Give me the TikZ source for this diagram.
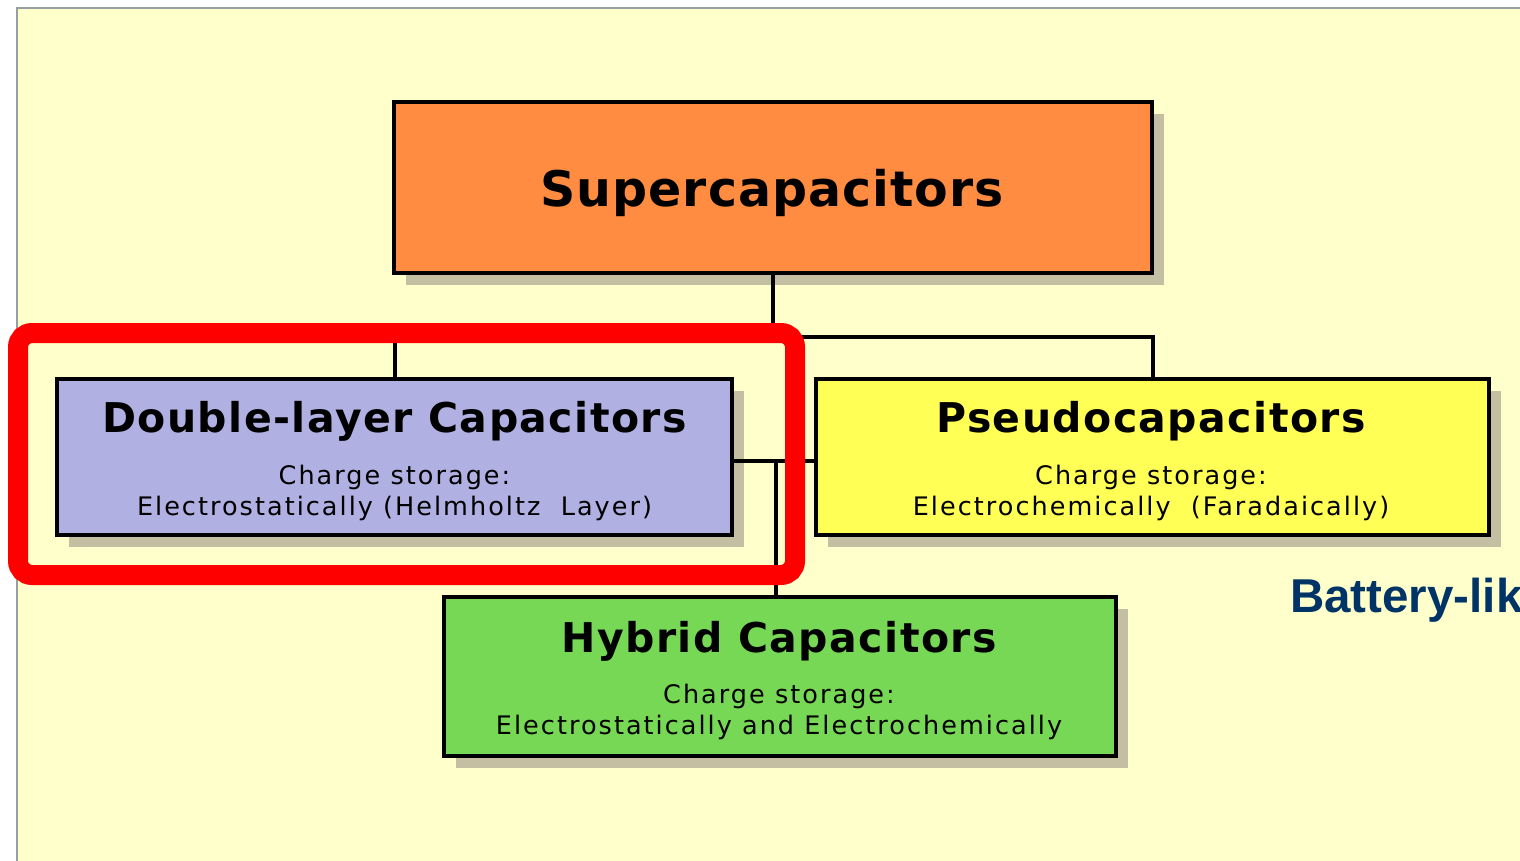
\documentclass[tikz,border=0pt]{standalone}
\usepackage{fontspec}
\setmainfont{DejaVu Sans}
\newfontfamily\libsans{Liberation Sans}
\newfontfamily\subfont[LetterSpace=8]{DejaVu Sans}
\newfontfamily\ttlfont[LetterSpace=3.5]{DejaVu Sans}
\newfontfamily\supfont[LetterSpace=2]{DejaVu Sans}
\usetikzlibrary{shadows}
\definecolor{bgyellow}{RGB}{255,255,204}
\definecolor{framegray}{RGB}{150,160,160}
\definecolor{shadowc}{RGB}{196,190,162}
\definecolor{orangebox}{RGB}{255,140,64}
\definecolor{purplebox}{RGB}{176,176,226}
\definecolor{yellowbox}{RGB}{255,255,85}
\definecolor{greenbox}{RGB}{119,216,85}
\definecolor{navytext}{RGB}{0,51,102}
\definecolor{hired}{RGB}{255,0,0}
\tikzset{
  box/.style={draw=black, line width=4.5pt, inner sep=0pt,
    drop shadow={shadow xshift=12pt, shadow yshift=-12pt, fill=shadowc, opacity=1}},
  conn/.style={draw=black, line width=4pt},
  ttl/.style={anchor=base, inner sep=0pt, font=\ttlfont\bfseries\fontsize{41}{41}\selectfont},
  sub/.style={anchor=base, inner sep=0pt, font=\subfont\fontsize{25.5}{30}\selectfont},
}
\begin{document}
\begin{tikzpicture}[x=1pt,y=1pt]
\useasboundingbox (0,0) rectangle (1520,-861);
\clip (0,0) rectangle (1520,-861);
\fill[white] (0,0) rectangle (1520,-861);
\draw[fill=bgyellow, draw=framegray, line width=2pt] (17,-8) rectangle (1560,-900);

% connectors
\coordinate (j) at (773,-337);
\coordinate (k) at (776,-461);

% boxes
\node[box, fill=orangebox, minimum width=758, minimum height=171] (sup) at (773,-187.5) {};
\node[box, fill=purplebox, minimum width=675, minimum height=156] (dl) at (394.5,-457) {};
\node[box, fill=yellowbox, minimum width=673, minimum height=156] (ps) at (1152.5,-457) {};
\node[box, fill=greenbox, minimum width=672, minimum height=159] (hy) at (780,-676.5) {};

\draw[conn] (sup.south) -- (j);
\draw[conn] (dl.north) |- (j) -| (ps.north);
\draw[conn] (dl.east |- k) -- (ps.west |- k);
\draw[conn] (k) -- (k |- hy.north);

% texts
\node[anchor=base, inner sep=0pt, font=\supfont\bfseries\fontsize{49}{49}\selectfont] (supt) at (772,-207) {Supercapacitors};

\node[ttl] (dlt) at (394.5,-432) {Double-layer Capacitors};
\node[sub] (dls1) at (394.5,-484) {Charge storage:};
\node[sub] (dls2) at (394.5,-515) {Electrostatically (Helmholtz\ \ Layer)};

\node[ttl] (pst) at (1151,-432) {Pseudocapacitors};
\node[sub] (pss1) at (1151,-484) {Charge storage:};
\node[sub] (pss2) at (1151,-515) {Electrochemically\ \ (Faradaically)};

\node[ttl] (hyt) at (779,-652) {Hybrid Capacitors};
\node[sub] (hys1) at (779,-703) {Charge storage:};
\node[sub] (hys2) at (779,-734) {Electrostatically and Electrochemically};

% highlight
\node[draw=hired, line width=20pt, rounded corners=14pt, minimum width=777, minimum height=242, inner sep=0pt] (hl) at (406.5,-454) {};

\node[anchor=base west, inner sep=0pt, text=navytext, font=\libsans\bfseries\fontsize{47.5}{47.5}\selectfont] (bat) at (1290,-612) {Battery-lik};
\end{tikzpicture}
\end{document}
